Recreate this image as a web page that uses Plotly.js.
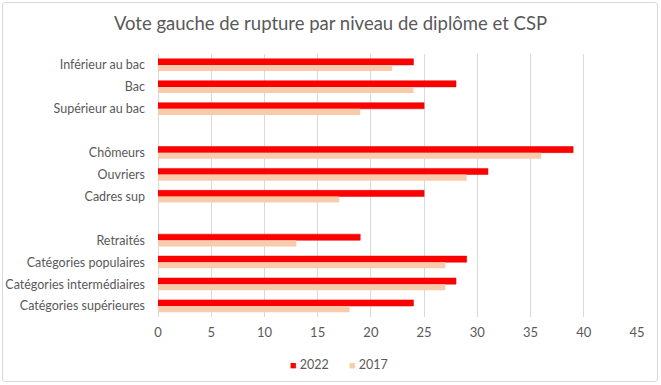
<!DOCTYPE html>
<html>
<head>
<meta charset="utf-8">
<script src="https://cdn.plot.ly/plotly-3.0.1.min.js"></script>
<style>
html,body{margin:0;padding:0;background:#fff;}
#wrap{position:relative;width:661px;height:385px;}
#chart{width:661px;height:385px;}
#frame{position:absolute;left:2px;top:2px;width:654px;height:378px;border:1px solid #d9d9d9;border-radius:3px;pointer-events:none;}
</style>
</head>
<body>
<div id="wrap"><div id="chart"></div><div id="frame"></div></div>
<script>
const categories = ["Inférieur au bac","Bac","Supérieur au bac"," ","Chômeurs","Ouvriers","Cadres sup","  ","Retraités","Catégories populaires","Catégories intermédiaires","Catégories supérieures"];
const values2022 = [24,28,25,null,39,31,25,null,19,29,28,24];
const values2017 = [22,24,19,null,36,29,17,null,13,27,27,18];
const xTicks = [0,5,10,15,20,25,30,35,40,45];
const seriesNames = ['2022','2017'];
const seriesColors = ['#ff0000','#f8cbad'];

const traces = [
  {type:'bar', orientation:'h', name:seriesNames[0], y:categories, x:values2022,
   marker:{color:seriesColors[0], line:{color:'#e00000', width:0.5}}, hoverinfo:'x+y'},
  {type:'bar', orientation:'h', name:seriesNames[1], y:categories, x:values2017,
   marker:{color:seriesColors[1]}, hoverinfo:'x+y'}
];
const legendAnn = seriesNames.map((n,i)=>({
  xref:'paper', yref:'paper', x: i===0 ? 0.362 : 0.395, xanchor:i===0?'right':'left',
  y:-0.18, yanchor:'middle', showarrow:false,
  text:'<span style="color:'+seriesColors[i]+';font-size:11px">■</span> '+n,
  font:{size:12.5, color:'#595959'}
}));
const layout = {
  width:661, height:385,
  margin:{l:158, r:24, t:54, b:68, autoexpand:false},
  paper_bgcolor:'#fff', plot_bgcolor:'#fff',
  font:{family:'Lato, Carlito, sans-serif', color:'#595959', size:12.5},
  title:{text:'Vote gauche de rupture par niveau de diplôme et CSP', font:{size:18.5, color:'#595959'}, x:0.5, xanchor:'center', y:0.94, yanchor:'middle'},
  barmode:'group', bargap:0.44, bargroupgap:0,
  xaxis:{range:[0,45], tickvals:xTicks, showgrid:true, gridcolor:'#d9d9d9', gridwidth:1, zeroline:true, zerolinecolor:'#d9d9d9', showline:false, ticks:'', ticklen:0, ticklabelstandoff:6, tickfont:{size:13, color:'#595959'}, fixedrange:true},
  yaxis:{type:'category', categoryorder:'array', categoryarray:categories, autorange:'reversed', showgrid:false, zeroline:false, ticks:'', ticklabelstandoff:12, tickfont:{size:12.5, color:'#595959'}, fixedrange:true},
  showlegend:false,
  annotations:legendAnn
};
Plotly.newPlot('chart', traces, layout, {displayModeBar:false, staticPlot:true});
</script>
</body>
</html>
